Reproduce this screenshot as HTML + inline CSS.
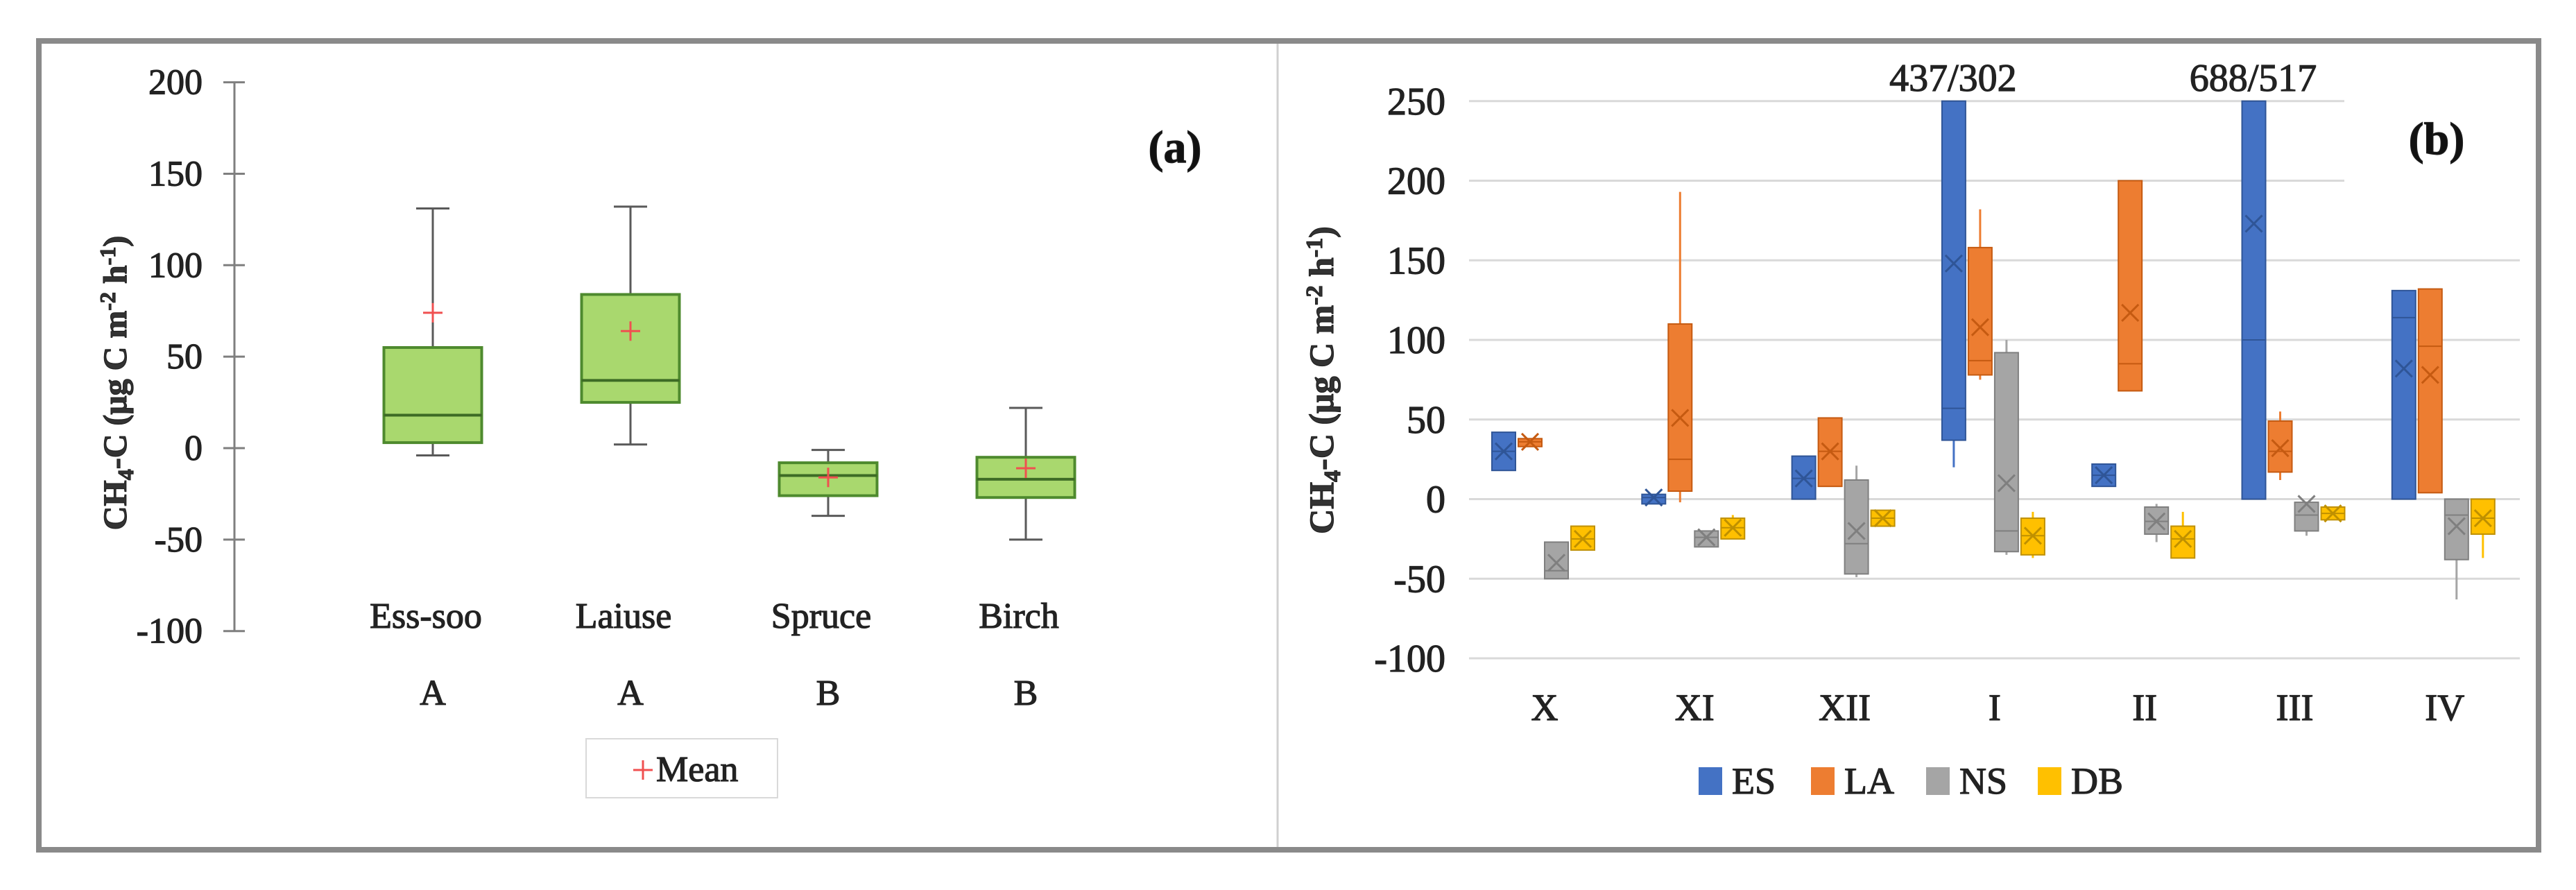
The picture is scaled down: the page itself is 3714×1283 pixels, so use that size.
<!DOCTYPE html>
<html><head><meta charset="utf-8"><style>
html,body{margin:0;padding:0;background:#fff;}
svg{display:block;font-family:"Liberation Serif",serif;}
svg text{stroke:#222;stroke-width:1.2;}
</style></head><body>
<svg id="fig" width="3714" height="1283" viewBox="0 0 3714 1283" xmlns="http://www.w3.org/2000/svg">
<rect x="0" y="0" width="3714" height="1283" fill="#fff"/>
<rect x="56" y="59" width="3604" height="1166" fill="none" stroke="#8a8a8a" stroke-width="8"/>
<line x1="1842" y1="63" x2="1842" y2="1221" stroke="#d0d0d0" stroke-width="3"/>
<g id="pa"></g>
<g id="pb"></g>
</svg>
<script>
// ---- Panel (a) data ----
const aCats = ["Ess-soo","Laiuse","Spruce","Birch"];
const aGroups = ["A","A","B","B"];
const aMin = [-4, 2, -37, -50];
const aQ1 = [3, 25, -26, -27];
const aMed = [18, 37, -15, -17];
const aQ3 = [55, 84, -8, -5];
const aMax = [131, 132, -1, 22];
const aMean = [74, 64, -16, -11];
const aTicks = [200,150,100,50,0,-50,-100];

// ---- Panel (b) data ----
const bCats = ["X","XI","XII","I","II","III","IV"];
const bSeries = ["ES","LA","NS","DB"];
const bMin = [[18,-3,0,20,8,0,0],[33,-2,8,75,68,12,4],[-50,-30,-49,-35,-27,-23,-63],[-32,-25,-17,-37,-37,-13,-37]];
const bQ1 = [[18,-3,0,37,8,0,0],[33,5,8,78,68,17,4],[-50,-30,-47,-33,-22,-20,-38],[-32,-25,-17,-35,-37,-13,-22]];
const bMed = [[30,1,13,57,15,100,114],[36,25,30,87,85,30,96],[-45,-24,-28,-20,-14,-10,-10],[-25,-18,-12,-23,-25,-9,-12]];
const bQ3 = [[42,3,27,437,22,688,131],[38,110,51,158,200,49,132],[-27,-20,12,92,-5,-2,0],[-17,-12,-7,-12,-17,-5,0]];
const bMax = [[42,3,27,437,22,688,131],[38,193,51,182,200,55,132],[-27,-20,21,100,-3,-2,0],[-17,-10,-7,-8,-8,-5,0]];
const bMean = [[30,1,13,148,15,173,82],[36,51,30,108,117,32,78],[-40,-24,-20,10,-14,-3,-17],[-25,-18,-12,-23,-25,-9,-12]];
const bTicks = [250,200,150,100,50,0,-50,-100];
const bOverLabels = ["","","","437/302","","688/517",""];
const bColors = ["#4472C4","#ED7D31","#A5A5A5","#FFC000"];
const bDark = ["#2f5597","#c55a11","#7f7f7f","#bf9000"];

const NS="http://www.w3.org/2000/svg";
function mk(parent,tag,attrs,text){const e=document.createElementNS(NS,tag);for(const k in attrs)e.setAttribute(k,attrs[k]);if(text!==undefined)e.textContent=text;parent.appendChild(e);return e;}

// ---- Panel (a) ----
const pa=document.getElementById('pa');
const ya=v=>646-v*2.637;
const xa=i=>624+i*285;
let ax=mk(pa,'line',{x1:338,y1:ya(200),x2:338,y2:ya(-100),stroke:'#7f7f7f','stroke-width':3});

aTicks.forEach(t=>{
  let l=mk(pa,'line',{x1:322,y1:ya(t),x2:353,y2:ya(t),stroke:'#7f7f7f','stroke-width':3});
  
  let tx=mk(pa,'text',{x:292,y:ya(t)+17,'text-anchor':'end','font-size':52,fill:'#222'},String(t));
  
});
let ta=mk(pa,'text',{x:0,y:0,transform:'translate(182,552) rotate(-90)','text-anchor':'middle','font-size':48,'font-weight':'bold',fill:'#333'});

ta.innerHTML='CH<tspan font-size="32" dy="10">4</tspan><tspan dy="-10">-C (μg C m</tspan><tspan font-size="32" dy="-16">-2</tspan><tspan dy="16"> h</tspan><tspan font-size="32" dy="-16">-1</tspan><tspan dy="16">)</tspan>';
aCats.forEach((c,i)=>{
  const cx=xa(i),w=141;
  let wl=mk(pa,'line',{x1:cx,y1:ya(aMax[i]),x2:cx,y2:ya(aMin[i]),stroke:'#595959','stroke-width':3});
  
  [aMax[i],aMin[i]].forEach(v=>{let c2=mk(pa,'line',{x1:cx-24,y1:ya(v),x2:cx+24,y2:ya(v),stroke:'#595959','stroke-width':3});
    });
  let b=mk(pa,'rect',{x:cx-w/2,y:ya(aQ3[i]),width:w,height:ya(aQ1[i])-ya(aQ3[i]),fill:'#a9d86e',stroke:'#4e8a2e','stroke-width':4});
  
  let m=mk(pa,'line',{x1:cx-w/2,y1:ya(aMed[i]),x2:cx+w/2,y2:ya(aMed[i]),stroke:'#3d6b25','stroke-width':4});
  
  let mp=mk(pa,'path',{d:`M${cx-14},${ya(aMean[i])}h28M${cx},${ya(aMean[i])-14}v28`,stroke:'#f05050','stroke-width':3,fill:'none'});
  
  let cl=mk(pa,'text',{x:cx-10,y:905,'text-anchor':'middle','font-size':52,fill:'#222'},c);
  
  let gl=mk(pa,'text',{x:cx,y:1016,'text-anchor':'middle','font-size':52,fill:'#222'},aGroups[i]);
  
});
let lg=mk(pa,'rect',{x:845,y:1065,width:276,height:85,fill:'#fff',stroke:'#d9d9d9','stroke-width':2});

let lgm=mk(pa,'path',{d:'M913,1110h28M927,1096v28',stroke:'#f05050','stroke-width':3});

let lgt=mk(pa,'text',{x:946,y:1126,'font-size':52,fill:'#222'},'Mean');

let la=mk(pa,'text',{x:1694,y:234,'text-anchor':'middle','font-size':66,'font-weight':'bold',fill:'#111'},'(a)');


// ---- Panel (b) ----
const pb=document.getElementById('pb');
const yb=v=>719.5-Math.min(v,250)*2.295;
const xb=i=>2227+i*216.3;
const offs=[-59,-21,17,55];
bTicks.forEach(t=>{
  const xe=(t>=200)?3380:3633;
  let g=mk(pb,'line',{x1:2118,y1:yb(t),x2:xe,y2:yb(t),stroke:'#d9d9d9','stroke-width':3});
  
  let tx=mk(pb,'text',{x:2084,y:yb(t)+19,'text-anchor':'end','font-size':56,fill:'#222'},String(t));
  
});
let tb=mk(pb,'text',{x:0,y:0,transform:'translate(1922,548) rotate(-90)','text-anchor':'middle','font-size':50,'font-weight':'bold',fill:'#333'});

tb.innerHTML='CH<tspan font-size="34" dy="10">4</tspan><tspan dy="-10">-C (μg C m</tspan><tspan font-size="34" dy="-16">-2</tspan><tspan dy="16"> h</tspan><tspan font-size="34" dy="-16">-1</tspan><tspan dy="16">)</tspan>';
bCats.forEach((c,i)=>{
  let cl=mk(pb,'text',{x:xb(i),y:1038,'text-anchor':'middle','font-size':54,fill:'#222'},c);
  
  if(bOverLabels[i]){let o=mk(pb,'text',{x:xb(i)-60,y:131,'text-anchor':'middle','font-size':56,fill:'#222'},bOverLabels[i]);
    }
  bSeries.forEach((s,j)=>{
    const cx=xb(i)+offs[j],w=34;
    let wl=mk(pb,'line',{x1:cx,y1:yb(bMax[j][i]),x2:cx,y2:yb(bMin[j][i]),stroke:bColors[j],'stroke-width':3});
    
    const top=yb(bQ3[j][i]),bot=yb(bQ1[j][i]);
    let b=mk(pb,'rect',{x:cx-w/2,y:top,width:w,height:Math.max(bot-top,4),fill:bColors[j],stroke:bDark[j],'stroke-width':2});
    
    let m=mk(pb,'line',{x1:cx-w/2,y1:yb(bMed[j][i]),x2:cx+w/2,y2:yb(bMed[j][i]),stroke:bDark[j],'stroke-width':2});
    
    const my=yb(bMean[j][i]);
    let mx=mk(pb,'path',{d:`M${cx-12},${my-12}L${cx+12},${my+12}M${cx-12},${my+12}L${cx+12},${my-12}`,stroke:bDark[j],'stroke-width':3,fill:'none'});
    
  });
});
const lx=[2449,2611,2777,2938];
bSeries.forEach((s,j)=>{
  let r=mk(pb,'rect',{x:lx[j],y:1106,width:34,height:40,fill:bColors[j]});
  
  let t=mk(pb,'text',{x:lx[j]+48,y:1144,'font-size':54,fill:'#222'},s);
  
});
let lb=mk(pb,'text',{x:3513,y:222,'text-anchor':'middle','font-size':66,'font-weight':'bold',fill:'#111'},'(b)');

</script>
</body></html>
